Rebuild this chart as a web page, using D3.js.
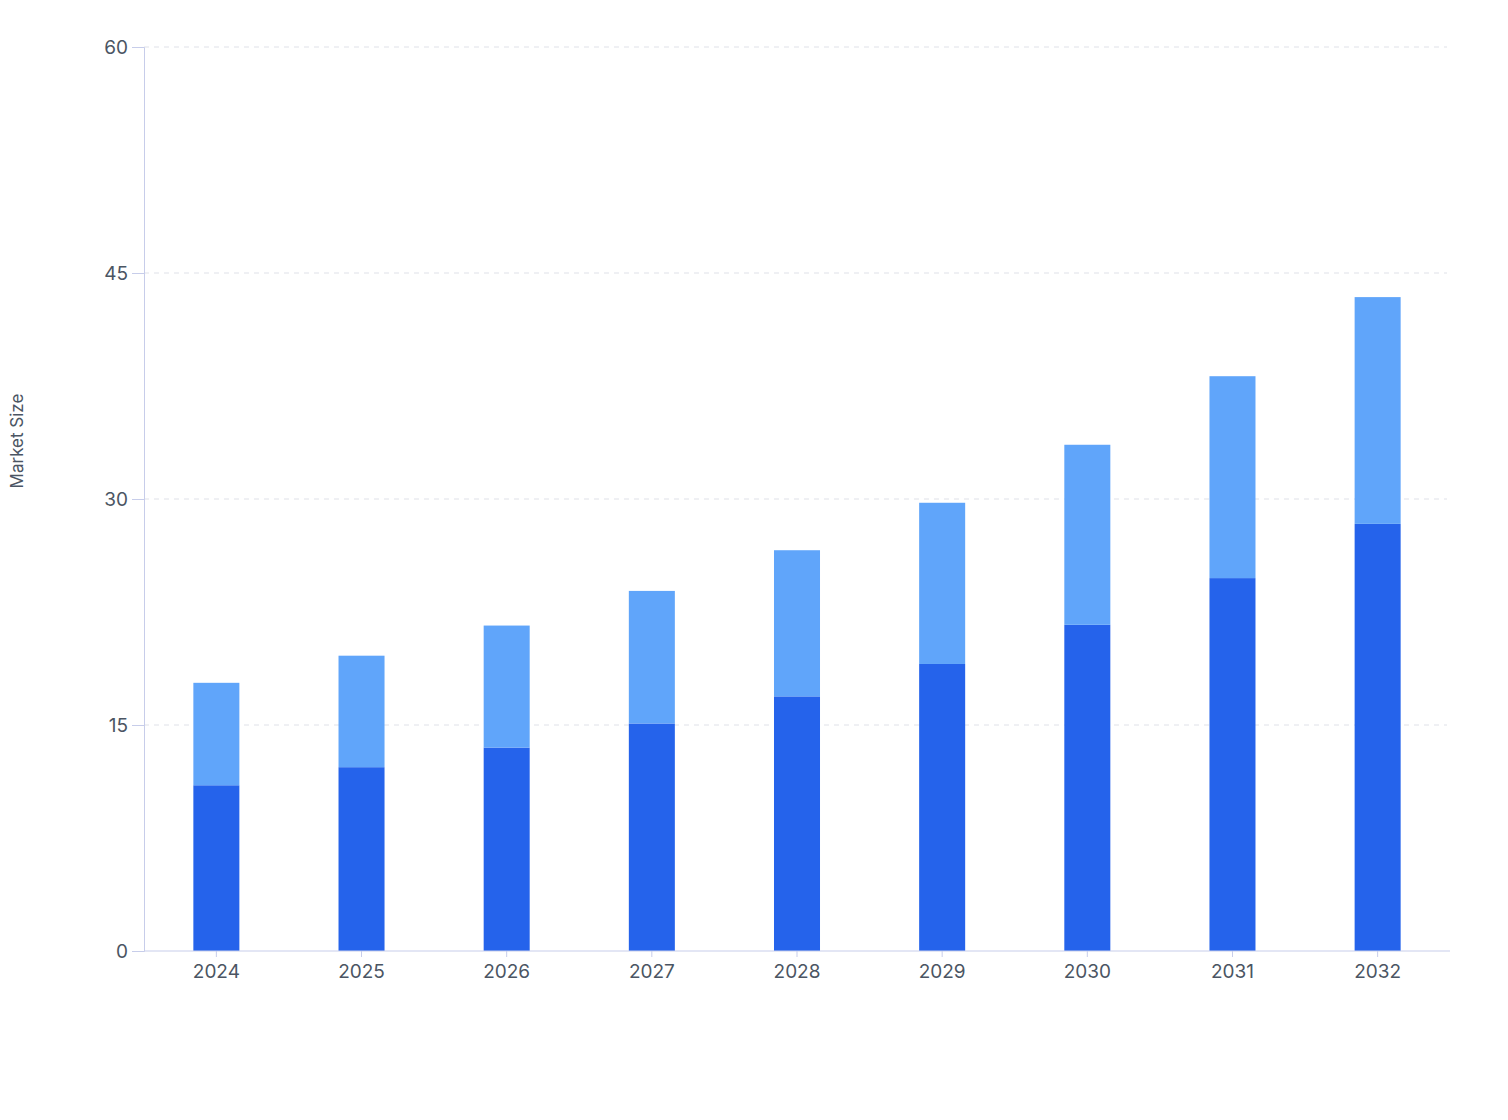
<!DOCTYPE html>
<html><head><meta charset="utf-8">
<script src="https://cdn.jsdelivr.net/npm/d3@7"></script>
<style>body{margin:0;background:#fff;font-family:Inter,"Noto Sans",sans-serif;}</style>
</head><body><svg id="c" width="1508" height="1120"></svg>
<script>
const years = ["2024","2025","2026","2027","2028","2029","2030","2031","2032"];
const baseValues = [11.0, 12.2, 13.5, 15.1, 16.9, 19.05, 21.65, 24.75, 28.35];
const totalValues = [17.8, 19.6, 21.6, 23.9, 26.6, 29.75, 33.6, 38.15, 43.4];
const yTicks = [0, 15, 30, 45, 60];

const svg = d3.select("#c");
const L = 144, R = 1450, T = 47, B = 951;
const x = d3.scaleBand().domain(years).range([L, R]).paddingInner(0.683).paddingOuter(0.34);
const y = d3.scaleLinear().domain([0, 60]).range([B, T]);

svg.append("g").selectAll("line").data(yTicks.slice(1)).join("line")
  .attr("x1", L).attr("x2", 1447).attr("y1", d => y(d)).attr("y2", d => y(d))
  .attr("stroke", "#dfe1e8").attr("stroke-dasharray", "5,5");

svg.append("g").selectAll("rect").data(years).join("rect")
  .attr("x", d => x(d)).attr("width", x.bandwidth())
  .attr("y", (d,i) => y(baseValues[i])).attr("height", (d,i) => B - y(baseValues[i]))
  .attr("fill", "#2563eb");
svg.append("g").selectAll("rect").data(years).join("rect")
  .attr("x", d => x(d)).attr("width", x.bandwidth())
  .attr("y", (d,i) => y(totalValues[i])).attr("height", (d,i) => y(baseValues[i]) - y(totalValues[i]))
  .attr("fill", "#60a5fa");

const axisCol = "#c7cdea";
const ya = svg.append("g").attr("transform", `translate(${L},0)`)
  .call(d3.axisLeft(y).tickValues(yTicks).tickSize(12).tickPadding(4));
ya.select(".domain").attr("stroke", axisCol);
ya.selectAll(".tick line").attr("stroke", axisCol).attr("x2", -0).attr("x1", -12);
ya.selectAll(".tick line").attr("x1", 0).attr("x2", -12);
ya.selectAll("text").attr("font-size", 19).attr("fill", "#4b5563").attr("font-family", "Inter");

const xa = svg.append("g").attr("transform", `translate(0,${B})`)
  .call(d3.axisBottom(x).tickSize(6).tickPadding(8));
xa.select(".domain").attr("stroke", axisCol).attr("d", `M${L},0H${R}`);
xa.selectAll(".tick line").attr("stroke", axisCol);
xa.selectAll("text").attr("font-size", 19).attr("fill", "#4b5563").attr("font-family", "Inter");

svg.append("text").attr("transform", "translate(23,441) rotate(-90)")
  .attr("text-anchor", "middle").attr("font-size", 17).attr("fill", "#4b5563")
  .text("Market Size");
</script></body></html>
